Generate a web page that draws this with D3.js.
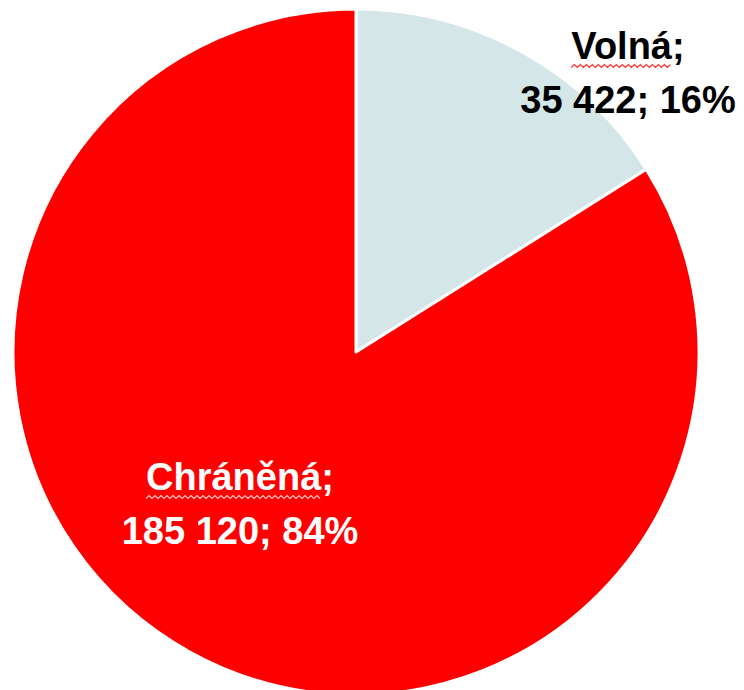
<!DOCTYPE html>
<html>
<head>
<meta charset="utf-8">
<script src="https://cdn.jsdelivr.net/npm/d3@7"></script>
<style>
  body { margin: 0; background: #fff; }
  svg { display: block; }
  .lbl { font-family: "Liberation Sans", Arial, sans-serif; font-weight: bold; font-size: 38px; }
</style>
</head>
<body>
<div id="chart"></div>
<script>
var svgWidth = 744;
var svgHeight = 690;

var categories = ["Volná", "Chráněná"];
var values = [35422, 185120];
var percents = ["16%", "84%"];
var colors = ["#d4e6e8", "#ff0000"];
var textColors = ["#000000", "#ffffff"];

var cx = 356, cy = 352, radius = 343;

var svg = d3.select("#chart")
  .append("svg")
  .attr("width", svgWidth)
  .attr("height", svgHeight);

var data = categories.map((c, i) => ({ name: c, value: values[i], pct: percents[i], color: colors[i], text: textColors[i] }));

var pie = d3.pie().sort(null).value(d => d.value);
var arc = d3.arc().innerRadius(0).outerRadius(radius);

var chartGroup = svg.append("g")
  .attr("transform", `translate(${cx}, ${cy})`);

var arcs = pie(data);

chartGroup.selectAll("path.slice")
  .data(arcs)
  .enter()
  .append("path")
  .classed("slice", true)
  .attr("d", arc)
  .attr("fill", d => d.data.color)
  .attr("stroke", "#fff")
  .attr("stroke-width", 3)
  .attr("stroke-linejoin", "round");

// label anchor positions relative to centre (top line baseline)
var labelPos = [[272, -293], [-116, 138]];

var labels = chartGroup.selectAll("g.label")
  .data(arcs)
  .enter()
  .append("g")
  .classed("label", true)
  .attr("transform", (d, i) => `translate(${labelPos[i][0]}, ${labelPos[i][1]})`);

labels.append("text")
  .classed("lbl", true)
  .attr("text-anchor", "middle")
  .attr("fill", d => d.data.text)
  .text(d => d.data.name + ";");

labels.append("text")
  .classed("lbl", true)
  .attr("text-anchor", "middle")
  .attr("y", 54)
  .attr("fill", d => d.data.text)
  .text(d => d3.format(",")(d.data.value).replace(/,/g, " ") + "; " + d.data.pct);

// spell-check squiggles under the category names
labels.each(function(d, i) {
  var g = d3.select(this);
  var w = g.select("text").node().getComputedTextLength();
  var nameW = w * d.data.name.length / (d.data.name.length + 0.6);
  var x0 = -w / 2, x1 = x0 + nameW;
  var pts = [];
  for (var x = x0, k = 0; x <= x1; x += 3, k++) pts.push([x, 7 + (k % 2 ? -1.5 : 1.5)]);
  g.append("path")
    .attr("d", d3.line()(pts))
    .attr("fill", "none")
    .attr("stroke", i === 0 ? "#ff3030" : "#f4c4c4")
    .attr("stroke-width", 1.2);
});
</script>
</body>
</html>
